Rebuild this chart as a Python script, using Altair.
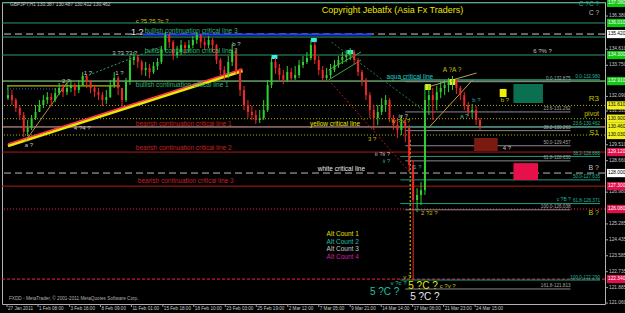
import altair as alt
import pandas as pd

FONT = "Liberation Sans"

# ---------------- price data (H1 bar index, sampled) ----------------
bars = list(range(2, 2 + 8 * 121, 8))
close = [132.16,131.90,131.47,131.10,130.19,130.40,130.94,131.26,131.63,131.90,
         132.06,131.90,132.27,132.54,132.32,132.54,132.70,132.43,132.70,133.18,
         132.86,132.54,132.32,132.16,131.90,132.06,132.70,133.07,132.54,131.90,
         132.86,134.03,134.19,133.93,133.50,133.61,133.39,133.71,133.93,134.57,
         135.37,134.99,134.30,134.46,134.83,134.67,134.83,135.10,135.37,134.99,
         134.83,135.10,134.83,134.03,133.50,133.23,133.93,134.57,133.50,132.43,
         131.63,131.26,131.10,130.83,130.94,131.36,132.70,133.93,133.61,133.23,
         132.97,133.39,133.07,133.23,133.77,133.93,134.14,134.83,134.03,133.50,
         133.07,133.23,133.50,133.77,134.03,134.19,134.30,134.46,134.03,133.39,
         132.97,132.16,131.36,130.94,131.26,131.63,131.90,130.94,130.56,130.30,
         130.72,130.40,128.43,126.56,126.83,127.09,131.90,132.16,131.90,132.32,
         132.54,132.70,132.86,132.97,132.54,132.16,131.63,131.26,131.36,130.83,
         130.46]
high = [132.70,132.43,132.00,131.63,131.26,130.83,131.10,131.63,131.90,132.16,
        132.32,132.27,132.54,132.81,132.75,132.81,132.97,132.81,132.97,133.39,
        133.29,132.97,132.70,132.54,132.32,132.43,132.97,133.39,133.18,132.54,
        133.07,134.25,134.46,134.30,134.03,133.93,133.82,133.93,134.14,134.78,
        135.53,135.42,135.10,134.78,135.10,134.99,135.10,135.31,135.53,135.42,
        135.21,135.31,135.21,134.89,134.14,133.71,134.25,134.89,134.67,133.61,
        132.65,131.90,131.58,131.36,131.36,131.90,132.97,134.19,134.14,133.82,
        133.50,133.71,133.61,133.71,134.03,134.25,134.46,135.10,134.99,134.25,
        133.71,133.61,133.82,134.03,134.25,134.46,134.57,134.67,134.57,134.14,
        133.50,133.07,132.32,131.63,131.63,132.00,132.16,132.00,131.10,130.94,
        131.10,130.94,130.56,128.69,127.20,127.52,132.70,132.70,132.54,132.65,
        132.86,132.97,133.07,133.18,133.07,132.65,132.32,131.79,131.69,131.58,
        130.94]
low = [131.90,131.63,131.26,130.83,129.92,129.97,130.30,130.83,131.26,131.47,
       131.69,131.58,131.79,132.16,132.06,132.16,132.32,132.11,132.27,132.65,
       132.54,132.27,132.06,131.90,131.58,131.69,132.00,132.54,132.16,131.47,
       131.79,132.70,133.77,133.61,133.23,133.18,133.07,133.29,133.50,133.82,
       134.46,134.67,134.03,134.14,134.30,134.35,134.46,134.67,134.89,134.67,
       134.57,134.67,134.46,133.82,133.23,132.97,133.07,133.71,133.23,132.11,
       131.36,130.94,130.83,130.62,130.67,130.83,131.26,132.54,133.29,132.97,
       132.75,132.86,132.86,132.97,133.07,133.61,133.82,134.03,133.82,133.23,
       132.86,132.97,133.07,133.39,133.61,133.82,133.93,134.03,133.82,133.18,
       132.65,131.90,130.94,130.30,130.56,131.10,131.26,130.72,130.30,129.87,
       130.03,129.65,128.05,122.29,125.92,126.29,126.83,131.10,130.83,131.36,
       132.00,132.16,132.32,132.43,132.22,131.90,131.36,131.04,130.94,130.56,
       130.30]
first_open = 132.00

# ---------------- axes ----------------
x_tick_bars = [0, 63, 127, 190, 253, 317, 380, 444, 507, 571, 634, 698, 761, 825, 888, 952]
x_tick_labels = ["27 Jan 2011", "1 Feb 08:00", "3 Feb 16:00", "8 Feb 09:00", "11 Feb 01:00",
                 "15 Feb 18:00", "18 Feb 10:00", "23 Feb 03:00", "25 Feb 19:00", "2 Mar 12:00",
                 "7 Mar 05:00", "9 Mar 21:00", "14 Mar 14:00", "17 Mar 06:00", "21 Mar 23:00",
                 "24 Mar 15:00"]
y_tick_values = [136.380, 134.610, 133.750, 132.090, 131.310, 129.510, 128.660,
                 126.980, 125.285, 124.435, 123.585, 122.735, 121.885, 121.060]

# ---------------- horizontal levels ----------------
level_prices = [137.08, 136.01, 135.26, 134.30, 132.91, 130.46, 129.12, 127.30,
                135.42, 128.00, 131.61, 130.90, 130.03, 126.08, 122.34]
level_colors = ["#2e9a68", "#2e9a68", "#2e9a68", "#2e9a68", "#9cf09c", "#e8b0a8", "#b01818", "#b01818",
                "#c8c8c8", "#b8b8b8", "#b4b000", "#b4b000", "#b4b000", "#ff2050", "#ff2050"]
level_styles = ["solid"] * 8 + ["dash"] * 2 + ["dot"] * 4 + ["fine"]

# segments: x from, x to (bar), price from, price to
seg_x = [276, 0, 2, 2, 151, 36, 654, 660, 857, 855, 654, 654, 820]
seg_x2 = [742, 230, 479, 479, 312, 123, 821, 847, 947, 955, 720, 720, 820]
seg_y = [135.40, 132.65, 129.45, 129.55, 133.07, 129.65, 132.97, 134.99, 130.40, 132.59, 133.50, 132.97, 129.76]
seg_y2 = [135.40, 132.65, 133.45, 133.55, 134.73, 132.86, 128.00, 131.36, 132.97, 133.34, 134.46, 134.03, 122.29]
seg_colors = ["#2040ff", "#e8e800", "#e8e800", "#ff3355", "#30a060", "#b09040", "#a02020", "#207a50",
              "#c0a040", "#c0a040", "#40a040", "#40a040", "#e0e000"]
seg_widths = [2, 1, 3, 1.6, 1, 1, 1, 1, 1, 1, 1, 1, 1]
seg_styles = ["solid", "solid", "solid", "solid", "dot", "solid", "dot", "dot",
              "solid", "solid", "solid", "solid", "dot"]
blue_dot_x = [0]
blue_dot_x2 = [116]
blue_dot_p = [132.49]

# fibonacci sets (drawn from the crash low to the right)
gray_fib_prices = [132.875, 131.262, 130.263, 129.457, 128.650, 126.038, 121.813]
gray_fib_labels = ["0.0-132.875", "23.6-131.262", "38.2-130.263", "50.0-129.457",
                   "61.8-128.650", "100.0-126.038", "161.8-121.813"]
teal_fib_prices = [132.980, 130.462, 128.886, 127.635, 126.371, 122.290]
teal_fib_labels = ["0.0-132.980", "23.6-130.462", "38.2-128.886", "50.0-127.635",
                   "61.8-126.371", "100.0-122.290"]
gray_fib_span = (810, 1146)
teal_fib_span = (800, 1206)

# boxes
box_x = [950, 1030, 1030, 1002, 850, 900, 538, 618, 692]
box_x2 = [998, 1090, 1080, 1016, 862, 912, 550, 630, 704]
box_y = [129.87, 132.75, 128.53, 132.49, 132.75, 133.02, 134.30, 135.21, 134.57]
box_y2 = [129.17, 131.74, 127.63, 132.06, 132.43, 132.70, 134.09, 134.99, 134.35]
box_colors = ["#7a1a10", "#0b7050", "#e8104a", "#f0f000", "#e8e820", "#e8e820", "#40e8e8", "#40e8e8", "#40e8e8"]

# right-hand price tags
tag_prices = [137.08, 136.01, 135.42, 134.30, 132.91, 131.61, 130.90, 130.46, 130.03,
              129.12, 128.00, 127.30, 126.08, 122.34]
tag_fill = ["#10c810", "#10c810", "#ffffff", "#10c810", "#10c810", "#f0f020", "#f0f020", "#f0f020",
            "#f0f020", "#e0104a", "#ffffff", "#e0104a", "#e0104a", "#e0104a"]
tag_text_color = ["#ffffff", "#ffffff", "#000000", "#ffffff", "#ffffff", "#000000", "#000000", "#000000",
                  "#000000", "#ffffff", "#000000", "#ffffff", "#ffffff", "#ffffff"]

# left aligned texts
lt_text = ["GBPJPY,H1  130.387 130.487 130.412 130.462", "Copyright Jebatfx (Asia Fx Traders)",
           "bullish continuation critical line 3", "bullish continuation critical line 2",
           "bullish continuation critical line 1", "bearish continuation critical line 1",
           "bearish continuation critical line 2", "bearish continuation critical line 3",
           "yellow critical line", "white critical line", "aqua critical line",
           "Alt Count 1", "Alt Count 2", "Alt Count 3", "Alt Count 4",
           "5 ?C ?", "5 ?C ?", "5 ?C ?", "v ?c ?", "c ?v ?", "v ?",
           "FXDD - MetaTrader, © 2001-2011 MetaQuotes Software Corp.",
           "1 ?", "c ?5 ?5 ?c ?", "6 ?% ?", "A ?A ?", "b ?", "4 ?", "b ?", "a ?", "c ?B ?",
           "1 ?", "1 ?", "2 ?", "3 ?3 ?3 ?", "b ?", "4 ?4 ?", "a ?", "iv ?", "iv ?iv ?",
           "ii ?ii ?", "ii ?", "3 ?", "1 ?", "2 ?2 ?"]
lt_x = [6, 640, 280, 280, 262, 262, 262, 266, 616, 632, 772, 650, 650, 650, 650,
        738, 816, 820, 780, 880, 806, 4,
        252, 262, 1070, 886, 1004, 1008, 946, 922, 1118,
        156, 220, 112, 214, 458, 136, 36, 796, 782, 748, 764, 734, 826, 842]
lt_y = [136.97, 136.70, 135.58, 134.51, 132.70, 130.62, 129.34, 127.57, 130.62, 128.21, 133.13,
        124.74, 124.32, 123.94, 123.52, 121.65, 121.97, 121.36, 122.13, 121.97, 122.43, 121.27,
        135.55, 136.11, 134.51, 133.50, 131.90, 129.34, 131.90, 131.04, 126.61,
        133.34, 133.34, 132.91, 134.41, 134.89, 130.40, 129.50, 131.04, 130.80,
        129.02, 128.62, 129.82, 128.32, 125.86]
lt_color = ["#c8c8c8", "#e8e800", "#2fb870", "#2fb870", "#2fb870", "#c82020", "#c82020", "#c82020",
            "#e8e800", "#e8e8e8", "#20d0d0", "#e0e000", "#20c0a0", "#c8c8c8", "#d020a0",
            "#20c0a0", "#e8e800", "#e8e8e8", "#20c0a0", "#c8c000", "#c8c000", "#b0b0b0",
            "#e8e8e8", "#c8c000", "#c0c0c0", "#c8c000", "#c8c000", "#c0c0c0", "#20b0a0", "#20b0a0", "#20b0a0",
            "#c0c0c0", "#c0c0c0", "#c0c0c0", "#c0c0c0", "#c0c0c0", "#c0c0c0", "#c0c0c0", "#c0c0c0", "#c8c000",
            "#c0c0c0", "#20b0a0", "#c8c000", "#20b0a0", "#c8c000"]
lt_size = [4.8, 9, 6.5, 6.5, 6.5, 6.5, 6.5, 6.5, 6.5, 6.5, 6.5, 6.5, 6.5, 6.5, 6.5,
           10, 10, 10, 6, 6, 6, 4.7,
           9, 6, 6, 6.5, 6, 6, 6, 6, 5,
           6, 6, 6, 6, 6, 6, 6, 6, 6, 6, 6, 6, 6, 6]

# right aligned texts
rt_text = ["R3", "pivot", "S1", "C ?C ?", "C ?", "B ?", "B ?"]
rt_x = [1204, 1204, 1204, 1204, 1204, 1204, 1204]
rt_y = [131.95, 131.15, 130.14, 137.02, 136.54, 128.27, 125.86]
rt_color = ["#c8c000", "#c8c000", "#c8c000", "#20b0a0", "#c0c0c0", "#c0c0c0", "#c8c000"]
rt_size = [8, 7, 8, 6.5, 6.5, 7, 7]

# ---------------- chart ----------------
xscale = alt.Scale(domain=[0, 1206], nice=False, zero=False)
yscale = alt.Scale(domain=[121.01, 137.13], nice=False, zero=False)


def X(f):
    return alt.X(f, type="quantitative", scale=xscale, axis=None)


def Y(f):
    return alt.Y(f, type="quantitative", scale=yscale, axis=None)


candles = pd.DataFrame({"bar": bars, "open": [first_open] + close[:-1], "close": close,
                        "high": high, "low": low})
ccolor = alt.condition("datum.close >= datum.open", alt.value("#30d030"), alt.value("#f02828"))

layers = []

levels = pd.DataFrame({"p": level_prices, "c": level_colors, "s": level_styles})
dash_map = {"solid": None, "dash": [7, 4], "dot": [1, 2], "fine": [3, 2]}
for style, dash in dash_map.items():
    kw = {"strokeWidth": 1}
    if dash:
        kw["strokeDash"] = dash
    sub = levels[levels.s == style]
    layers.append(alt.Chart(sub).mark_rule(**kw).encode(
        y=Y("p"), color=alt.Color("c:N", scale=None)))

segs = pd.DataFrame({"x": seg_x, "x2": seg_x2, "y": seg_y, "y2": seg_y2, "c": seg_colors,
                     "w": seg_widths, "s": seg_styles})
layers.append(alt.Chart(segs[segs.s == "solid"]).mark_rule().encode(
    x=X("x"), x2="x2", y=Y("y"), y2="y2", color=alt.Color("c:N", scale=None),
    strokeWidth=alt.StrokeWidth("w:Q", scale=None)))
layers.append(alt.Chart(segs[segs.s == "dot"]).mark_rule(strokeDash=[2, 2]).encode(
    x=X("x"), x2="x2", y=Y("y"), y2="y2", color=alt.Color("c:N", scale=None),
    strokeWidth=alt.StrokeWidth("w:Q", scale=None)))
blue_dot = pd.DataFrame({"x": blue_dot_x, "x2": blue_dot_x2, "p": blue_dot_p})
layers.append(alt.Chart(blue_dot).mark_rule(strokeDash=[1, 2], color="#4060ff").encode(
    x=X("x"), x2="x2", y=Y("p")))

gfib = pd.DataFrame({"p": gray_fib_prices, "t": gray_fib_labels,
                     "x": gray_fib_span[0], "x2": gray_fib_span[1]})
tfib = pd.DataFrame({"p": teal_fib_prices, "t": teal_fib_labels,
                     "x": teal_fib_span[0], "x2": teal_fib_span[1]})
layers.append(alt.Chart(gfib).mark_rule(color="#8a8a8a").encode(x=X("x"), x2="x2", y=Y("p")))
layers.append(alt.Chart(tfib).mark_rule(color="#1a9f80").encode(x=X("x"), x2="x2", y=Y("p")))

boxes = pd.DataFrame({"x": box_x, "x2": box_x2, "y": box_y, "y2": box_y2, "c": box_colors})
layers.append(alt.Chart(boxes).mark_rect().encode(
    x=X("x"), x2="x2", y=Y("y"), y2="y2", color=alt.Color("c:N", scale=None)))

# candles
layers.append(alt.Chart(candles).mark_rule(strokeWidth=1).encode(
    x=X("bar"), y=Y("low"), y2="high", color=ccolor))
layers.append(alt.Chart(candles).mark_bar(size=2).encode(
    x=X("bar"), y=Y("open"), y2="close", color=ccolor))

layers.append(alt.Chart(gfib).mark_text(align="right", baseline="bottom", dy=-0.5, font=FONT,
                                        fontSize=4.6, color="#a8a8a8").encode(
    x=X("x2"), y=Y("p"), text="t:N"))
layers.append(alt.Chart(tfib).mark_text(align="right", baseline="bottom", dy=-0.5, font=FONT,
                                        fontSize=4.6, color="#20b898").encode(
    x=X("x2"), y=Y("p"), text="t:N"))

lt = pd.DataFrame({"t": lt_text, "x": lt_x, "y": lt_y, "c": lt_color, "s": lt_size})
layers.append(alt.Chart(lt).mark_text(align="left", baseline="middle", font=FONT).encode(
    x=X("x"), y=Y("y"), text="t:N", color=alt.Color("c:N", scale=None),
    size=alt.Size("s:Q", scale=None)))
rt = pd.DataFrame({"t": rt_text, "x": rt_x, "y": rt_y, "c": rt_color, "s": rt_size})
layers.append(alt.Chart(rt).mark_text(align="right", baseline="middle", font=FONT).encode(
    x=X("x"), y=Y("y"), text="t:N", color=alt.Color("c:N", scale=None),
    size=alt.Size("s:Q", scale=None)))

# price axis (right) drawn with marks
yt = pd.DataFrame({"p": y_tick_values})
layers.append(alt.Chart(yt).mark_rule(color="#a0a0a0").encode(
    x=alt.value(603), x2=alt.value(606), y=Y("p")))
layers.append(alt.Chart(yt).mark_text(align="left", baseline="middle", font=FONT, fontSize=4.8,
                                      color="#c8c8c8").encode(
    x=alt.value(607), y=Y("p"), text=alt.Text("p:Q", format=".3f")))

# time axis (bottom) drawn with marks
xt = pd.DataFrame({"b": x_tick_bars, "t": x_tick_labels})
layers.append(alt.Chart(xt).mark_rule(color="#a0a0a0").encode(
    x=X("b"), y=alt.value(302), y2=alt.value(305)))
layers.append(alt.Chart(xt).mark_text(align="left", baseline="middle", dx=1, font=FONT, fontSize=4.6,
                                      color="#c8c8c8").encode(
    x=X("b"), y=alt.value(306.5), text="t:N"))

# price tags
tags = pd.DataFrame({"p": tag_prices, "f": tag_fill, "tc": tag_text_color})
layers.append(alt.Chart(tags).transform_calculate(a="datum.p + 0.22", b="datum.p - 0.22").mark_rect().encode(
    x=alt.value(605), x2=alt.value(624), y=Y("a:Q"), y2="b:Q", color=alt.Color("f:N", scale=None)))
layers.append(alt.Chart(tags).mark_text(align="left", baseline="middle", font=FONT, fontSize=4.8).encode(
    x=alt.value(606), y=Y("p"), text=alt.Text("p:Q", format=".3f"), color=alt.Color("tc:N", scale=None)))

chart = alt.layer(*layers).properties(
    width=603, height=302,
    autosize=alt.AutoSizeParams(type="none"),
    padding={"left": 2, "top": 2, "right": 20, "bottom": 9},
    background="#000000",
).configure_view(stroke="#b0b0b0", strokeWidth=1)

chart.save("out.html", embed_options={"renderer": "svg", "actions": False})
